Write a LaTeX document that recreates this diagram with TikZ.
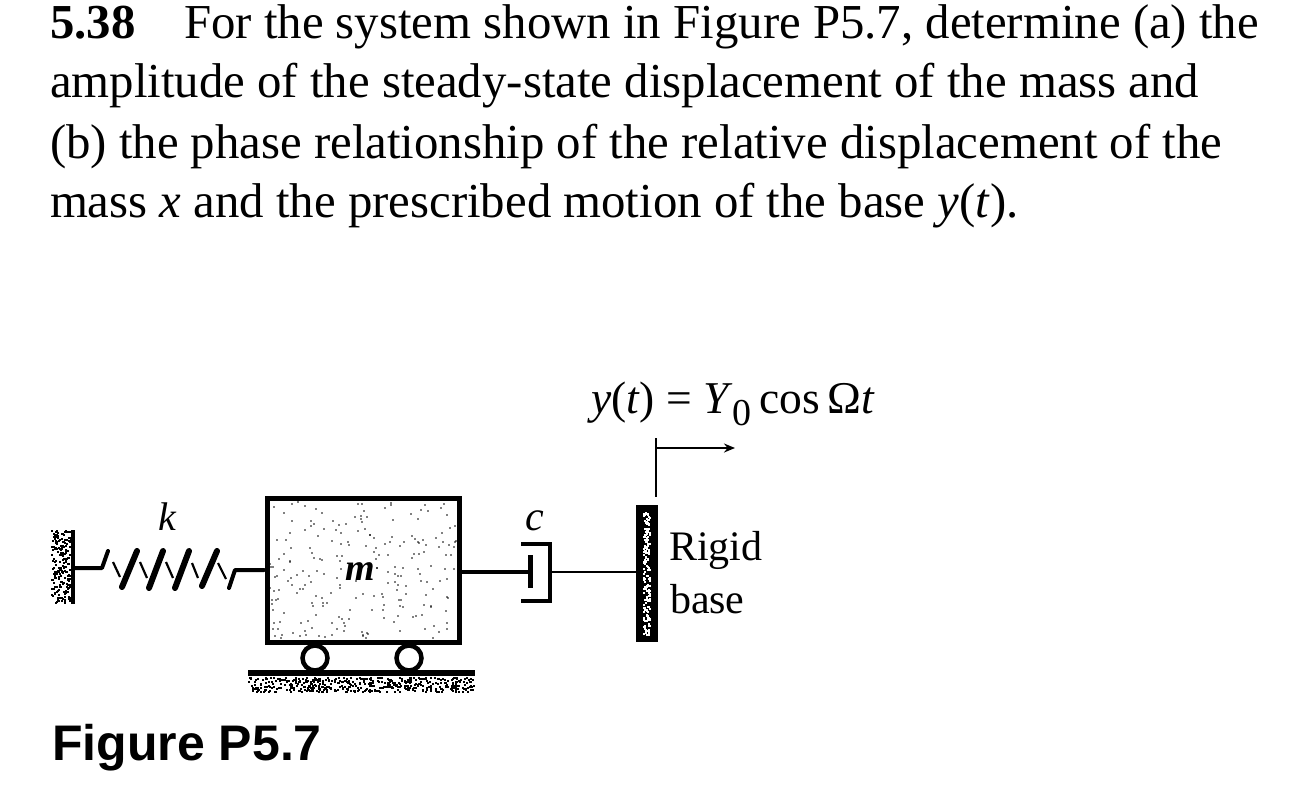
\documentclass[tikz,border=0pt]{standalone}
\usepackage{fontspec}
\setmainfont{Liberation Serif}
\newfontfamily\figfont{Liberation Sans}
\usetikzlibrary{arrows.meta}
\tikzset{
  txt/.style={anchor=base west,inner sep=0pt,outer sep=0pt,font=\fontsize{48.8}{54}\selectfont},
  lab/.style={anchor=base west,inner sep=0pt,outer sep=0pt,font=\fontsize{42}{48}\selectfont},
  eqlab/.style={anchor=base west,inner sep=0pt,outer sep=0pt,font=\fontsize{45.5}{50}\selectfont},
  medium/.style={line width=4pt,line cap=round,line join=round},
  thin spring/.style={line width=2.2pt},
  thick spring/.style={line width=6pt,line cap=round},
  wheel/.style={circle,draw,line width=4.5pt,fill=white,minimum size=25pt,inner sep=0pt},
}
\begin{document}
\begin{tikzpicture}[x=1pt,y=-1pt]
\useasboundingbox (0,0) rectangle (1300,792);
\pgfmathsetseed{538}
% problem text
\node[txt] (l1) at (50,39) {\textbf{5.38}\hspace{1em}For the system shown in Figure P5.7, determine (a) the};
\node[txt] (l2) at (50,97.5) {amplitude of the steady-state displacement of the mass and};
\node[txt] (l3) at (50,158) {(b) the phase relationship of the relative displacement of the};
\node[txt] (l4) at (50,217) {mass \textit{x} and the prescribed motion of the base \textit{y}(\textit{t}).};
% ground
\foreach \i in {1,...,480}{
  \pgfmathsetmacro{\dx}{248+random(0,225)}
  \pgfmathsetmacro{\dy}{677+random(0,14)}
  \fill[black] (\dx,\dy) rectangle +(2.2,2.2);
}
\draw[line width=6pt] (248,673) -- (475,673);
% wall
\foreach \i in {1,...,210}{
  \pgfmathsetmacro{\dx}{51+random(0,20)}
  \pgfmathsetmacro{\dy}{530+random(0,72)}
  \fill[black] (\dx,\dy) rectangle +(2.2,2.2);
}
\draw[line width=4.5pt] (73,530) -- (73,604);
% wheels
\node[wheel] (w1) at (315,658) {};
\node[wheel] (w2) at (409,658) {};
% mass
\node[draw,line width=5pt,minimum width=192pt,minimum height=144pt,inner sep=0pt] (mass) at (363.5,570.5) {};
\foreach \i in {1,...,230}{
  \pgfmathsetmacro{\dx}{270+random(0,186)}
  \pgfmathsetmacro{\dy}{502+random(0,136)}
  \fill[black] (\dx,\dy) circle (0.9pt);
}
\node[anchor=base,inner sep=0pt,font=\fontsize{38}{44}\selectfont\itshape\bfseries] (mlabel) at (360,580) {m};
% spring
\draw[medium] (73,568) -- (102,568) -- (108,551);
\foreach \a/\b/\c/\d in {113/562/120/577,140/562/147/578,166/562/173/578,192/563/198/578,218/563/226/579}{
  \draw[thin spring] (\a,\b) -- (\c,\d);
}
\foreach \a/\b/\c/\d in {122/587/137/551,149/588/163/551,175/588/189/551,202/586/217/551}{
  \draw[thick spring] (\a,\b) -- (\c,\d);
}
\draw[medium] (229,588) -- (235,570) -- (264,570);
\node[anchor=base,inner sep=0pt,font=\fontsize{40}{46}\selectfont\itshape] (klabel) at (167,530) {k};
% base
\node[draw,line width=1pt,fill=black,minimum width=21pt,minimum height=136pt,inner sep=0pt] (base) at (647,573.5) {};
\foreach \i in {1,...,170}{
  \pgfmathsetmacro{\dx}{643+random(0,6)}
  \pgfmathsetmacro{\dy}{512+random(0,122)}
  \fill[white] (\dx,\dy) rectangle +(1.8,1.8);
}
% damper
\coordinate (pistonrod) at (530,572);
\draw[line width=3.6pt] (mass.east |- pistonrod) -- (pistonrod);
\draw[line width=5pt] (530,555) -- (530,588);
\draw[line width=4pt] (521,544) -- (550,544) -- (550,601) -- (521,601);
\draw[line width=2.8pt] (550,572) -- (base.west |- 550,572);
\node[anchor=base,inner sep=0pt,font=\fontsize{42}{46}\selectfont\itshape] (clabel) at (535,530) {c};
% prescribed motion
\coordinate (lift) at (656,438);
\draw[line width=2.6pt] (lift) -- (656,497);
\draw[line width=2pt,-{Stealth[length=11pt,width=9pt]}] (656,448) -- (735,448);
\node[eqlab] (eq) at (591,413) {\textit{y}(\textit{t}) = \textit{Y}\raisebox{-0.27em}{\fontsize{38}{40}\selectfont 0}\,cos\,Ω\textit{t}};
\node[lab] (rigid) at (669,560) {Rigid};
\node[lab] (blab) at (670,613) {base};
\node[anchor=base west,inner sep=0pt,font=\fontsize{50}{54}\selectfont\figfont\bfseries] (fig) at (52,760) {Figure P5.7};
\end{tikzpicture}
\end{document}
